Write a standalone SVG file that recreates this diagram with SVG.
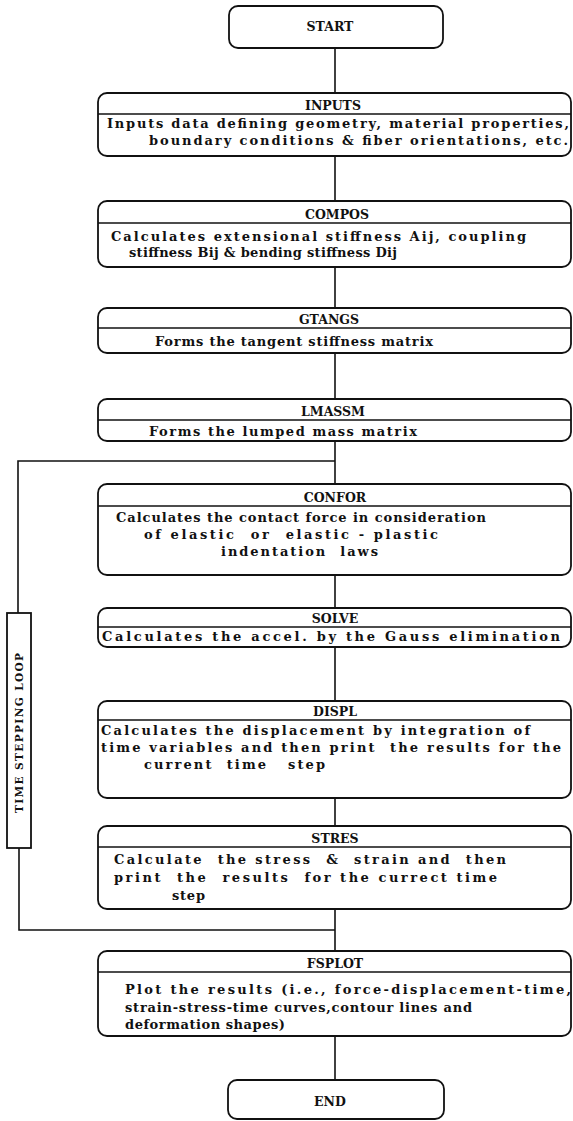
<svg xmlns="http://www.w3.org/2000/svg" width="573" height="1121" viewBox="0 0 573 1121">
<style>
.box{fill:#fff;stroke:#111;stroke-width:1.8}
.div{stroke:#111;stroke-width:1.5}
.con{fill:none;stroke:#111;stroke-width:1.6}
text{font-family:"DejaVu Serif","Liberation Serif",serif;font-weight:bold;font-size:13px;fill:#111;white-space:pre}
.t{text-anchor:middle;font-size:12.5px}
.lp{font-size:10.5px}
</style>
<rect width="573" height="1121" fill="#fff"/>
<g id="connectors">
<line class="con" x1="335" y1="48" x2="335" y2="93"/>
<line class="con" x1="335" y1="156" x2="335" y2="201"/>
<line class="con" x1="335" y1="267" x2="335" y2="308"/>
<line class="con" x1="335" y1="353" x2="335" y2="399"/>
<line class="con" x1="335" y1="441" x2="335" y2="484"/>
<polyline class="con" points="335,461 18,461 18,613"/>
<polyline class="con" points="19,848 19,930 335,930"/>
<line class="con" x1="335" y1="575" x2="335" y2="608"/>
<line class="con" x1="335" y1="647" x2="335" y2="701"/>
<line class="con" x1="335" y1="798" x2="335" y2="826"/>
<line class="con" x1="335" y1="909" x2="335" y2="951"/>
<line class="con" x1="335" y1="1036" x2="335" y2="1080"/>
</g>
<g id="loop">
<rect class="box" x="7" y="613" width="24" height="235"/>
<text class="t lp" transform="translate(23,733) rotate(-90)" textLength="160" x="0" y="0">TIME STEPPING LOOP</text>
</g>
<g id="start">
<rect class="box" x="229" y="6" width="214" height="42" rx="9"/>
<text class="t" x="330" y="31">START</text>
</g>
<g id="inputs">
<rect class="box" x="98" y="93" width="473" height="63" rx="9"/>
<line class="div" x1="98" y1="114" x2="571" y2="114"/>
<text class="t" x="333" y="110">INPUTS</text>
<text x="107" y="128" textLength="462">Inputs data defining geometry, material properties,</text>
<text x="149" y="145" textLength="419">boundary conditions &amp; fiber orientations, etc.</text>
</g>
<g id="compos">
<rect class="box" x="98" y="201" width="473" height="66" rx="9"/>
<line class="div" x1="98" y1="223" x2="571" y2="223"/>
<text class="t" x="337" y="219">COMPOS</text>
<text x="111" y="241" textLength="415">Calculates extensional stiffness Aij, coupling</text>
<text x="129" y="257" textLength="268">stiffness Bij &amp; bending stiffness Dij</text>
</g>
<g id="gtangs">
<rect class="box" x="98" y="308" width="473" height="45" rx="9"/>
<line class="div" x1="98" y1="328" x2="571" y2="328"/>
<text class="t" x="329" y="324">GTANGS</text>
<text x="155" y="346" textLength="278">Forms the tangent stiffness matrix</text>
</g>
<g id="lmassm">
<rect class="box" x="98" y="399" width="473" height="42" rx="9"/>
<line class="div" x1="98" y1="420" x2="571" y2="420"/>
<text class="t" x="333" y="416">LMASSM</text>
<text x="149" y="436" textLength="268">Forms the lumped mass matrix</text>
</g>
<g id="confor">
<rect class="box" x="98" y="484" width="473" height="91" rx="9"/>
<line class="div" x1="98" y1="506" x2="571" y2="506"/>
<text class="t" x="335" y="502">CONFOR</text>
<text x="116" y="522" textLength="370">Calculates the contact force in consideration</text>
<text x="144" y="539" textLength="294">of elastic  or  elastic - plastic</text>
<text x="221" y="556" textLength="157">indentation  laws</text>
</g>
<g id="solve">
<rect class="box" x="98" y="608" width="473" height="39" rx="9"/>
<line class="div" x1="98" y1="627" x2="571" y2="627"/>
<text class="t" x="335" y="623">SOLVE</text>
<text x="102" y="641" textLength="458">Calculates the accel. by the Gauss elimination</text>
</g>
<g id="displ">
<rect class="box" x="98" y="701" width="473" height="97" rx="9"/>
<line class="div" x1="98" y1="720" x2="571" y2="720"/>
<text class="t" x="335" y="716">DISPL</text>
<text x="101" y="735" textLength="429">Calculates the displacement by integration of</text>
<text x="101" y="752" textLength="460">time variables and then print  the results for the</text>
<text x="144" y="769" textLength="181">current  time   step</text>
</g>
<g id="stres">
<rect class="box" x="98" y="826" width="473" height="83" rx="9"/>
<line class="div" x1="98" y1="847" x2="571" y2="847"/>
<text class="t" x="335" y="843">STRES</text>
<text x="114" y="864" textLength="392">Calculate  the stress  &amp;  strain and  then</text>
<text x="114" y="882" textLength="383">print  the  results  for the currect time</text>
<text x="172" y="900" textLength="33">step</text>
</g>
<g id="fsplot">
<rect class="box" x="98" y="951" width="473" height="85" rx="9"/>
<line class="div" x1="98" y1="972" x2="571" y2="972"/>
<text class="t" x="335" y="968">FSPLOT</text>
<text x="125" y="994" textLength="446">Plot the results (i.e., force-displacement-time,</text>
<text x="125" y="1012" textLength="347">strain-stress-time curves,contour lines and</text>
<text x="125" y="1029" textLength="160">deformation shapes)</text>
</g>
<g id="end">
<rect class="box" x="228" y="1080" width="216" height="39" rx="9"/>
<text class="t" x="330" y="1106">END</text>
</g>
</svg>
